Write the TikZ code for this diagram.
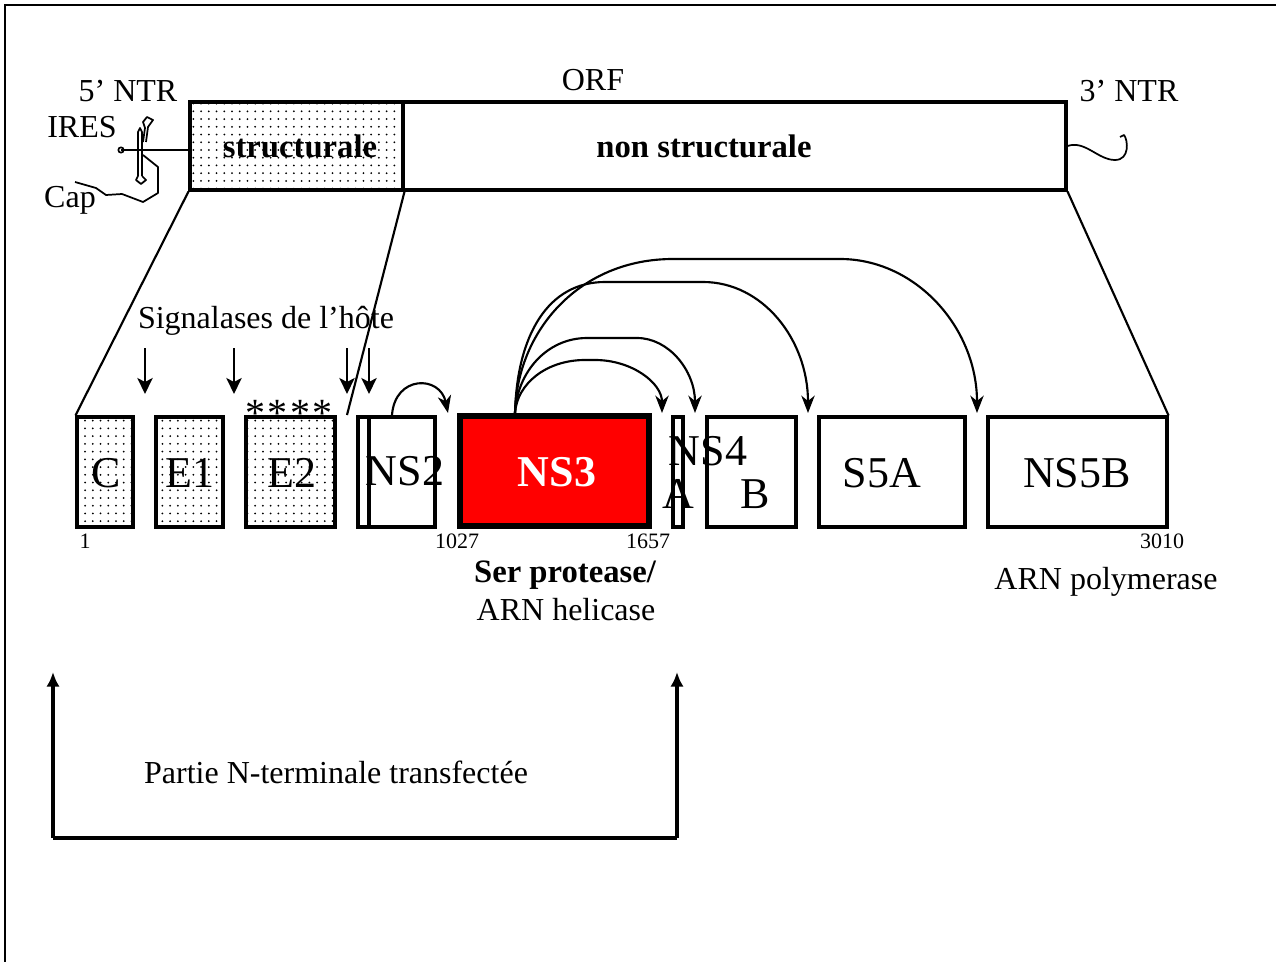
\documentclass[tikz,border=0pt]{standalone}
\usepackage{fontspec}
\setmainfont{Liberation Serif}
\usetikzlibrary{fit,patterns.meta,arrows.meta}
\definecolor{nsred}{RGB}{255,0,0}
\begin{document}
\begin{tikzpicture}[x=0.75pt,y=-0.75pt,
  box/.style={draw, line width=2.3pt, inner sep=0pt},
  dotbox/.style={box, pattern={Dots[distance=5.8pt,radius=0.75pt]}},
  lbl/.style={font=\fontsize{24}{28}\selectfont, inner sep=0pt, anchor=base},
  bl/.style={font=\fontsize{24.5}{28}\selectfont\bfseries, inner sep=0pt, anchor=base},
  big/.style={font=\fontsize{33}{38}\selectfont, inner sep=0pt, anchor=base},
  num/.style={font=\fontsize{16.5}{19}\selectfont, inner sep=0pt, anchor=base},
  star/.style={font=\fontsize{30}{32}\selectfont, inner sep=0pt, anchor=base},
  rna/.style={line width=1.3pt, line join=round},
  link/.style={line width=1.6pt},
  arr/.style={line width=1.6pt, -{Stealth[length=13pt,width=10pt,inset=4pt]}},
  sig/.style={line width=1.6pt, -{Stealth[length=12pt,width=11.5pt,inset=3pt]}},
  brk/.style={line width=2.3pt, -{Latex[length=11pt,width=10pt]}}
]
\useasboundingbox (0,0) rectangle (1276,962);
\draw[line width=1.6pt] (5,962) -- (5,5) -- (1276,5);

% ---- top bar
\node[dotbox, fit={(190,102) (403,190)}] (str) {};
\node[box, fit={(403,102) (1066,190)}] (nstr) {};
\node[bl] (strl) at (300,158) {structurale};
\node[bl] (nstrl) at (704,158) {non structurale};
\node[lbl] (orf) at (593,91) {ORF};
\node[lbl] (ntr5) at (128,102) {5’ NTR};
\node[lbl] (ires) at (82,138) {IRES};
\node[lbl] (cap) at (70,208) {Cap};
\node[lbl] (ntr3) at (1129,102) {3’ NTR};

% IRES structure
\coordinate (irj) at (121,150);
\draw[rna] (irj) -- (str.west |- irj);
\draw[rna] (irj) circle[radius=2pt];
\draw[rna] (138,176) -- (138,132) -- (140,128) -- (142,132) -- (142,176);
\draw[rna] (143,142) -- (145,128) -- (143,122) -- (147,117) -- (153,120) -- (148,127) -- (146,142);
\draw[rna] (138,176) -- (136,180) -- (141,184) -- (146,180) -- (142,176);
\coordinate (capS) at (75,182);
\draw[rna] (capS) -- (96,188) -- (106,195) -- (122,194) -- (143,202) -- (158,193) -- (158,167) -- (143,155);

% 3' tail
\draw[rna] (nstr.east) .. controls (1085,140) and (1098,160) .. (1115,160)
  .. controls (1130,160) and (1128,140) .. (1124,135) -- (1120,137);

% ---- protein boxes
\node[dotbox, fit={(77,417) (133,527)}] (C) {};
\node[dotbox, fit={(156,417) (223,527)}] (E1) {};
\node[dotbox, fit={(246,417) (335,527)}] (E2) {};
\node[box, fit={(358,417) (435,527)}] (NS2) {};
\draw[line width=2.3pt] (369,417) -- (369,527);
\node[draw, line width=4.6pt, inner sep=0pt, fill=nsred, fit={(460,416) (649,526)}] (NS3) {};
\node[box, fit={(673,417) (683,527)}] (NS4A) {};
\node[box, fit={(707,417) (796,527)}] (NS4B) {};
\node[box, fit={(819,417) (965,527)}] (NS5A) {};
\node[box, fit={(988,417) (1167,527)}] (NS5B) {};

\node[big] (lC) at (106,487) {C};
\node[big] (lE1) at (190,487) {E1};
\node[big] (lE2) at (292,487) {E2};
\node[big] (lNS2) at (405,485) {NS2};
\node[big, text=white, font=\fontsize{33}{38}\selectfont\bfseries] (lNS3) at (557,486) {NS3};
\node[big] (lNS4) at (708,465) {NS4};
\node[big] (lA) at (678,508) {A};
\node[big] (lB) at (755,508) {B};
\node[big] (lS5A) at (882,487) {S5A};
\node[big] (lNS5B) at (1077,487) {NS5B};

\node[star] (s1) at (255,426) {*};
\node[star] (s2) at (277,426) {*};
\node[star] (s3) at (300,426) {*};
\node[star] (s4) at (322,426) {*};

\node[num] (n1) at (85,548) {1};
\node[num] (n1027) at (457,548) {1027};
\node[num] (n1657) at (648,548) {1657};
\node[num] (n3010) at (1162,548) {3010};

\node[bl] (ser) at (565,582) {Ser protease/};
\node[lbl] (hel) at (566,620) {ARN helicase};
\node[lbl] (pol) at (1106,589) {ARN polymerase};

% expansion lines
\coordinate (cut) at (347,415);
\draw[link] (str.south west) -- (C.north west);
\draw[link] (str.south east) -- (cut);
\draw[link] (nstr.south east) -- (NS5B.north east);

% signalases
\node[lbl] (sigl) at (266,328) {Signalases de l’hôte};
\coordinate (a1) at (145,348); \coordinate (b1) at (145,394);
\coordinate (a2) at (234,348); \coordinate (b2) at (234,394);
\coordinate (a3) at (347,348); \coordinate (b3) at (347,394);
\coordinate (a4) at (369,348); \coordinate (b4) at (369,394);
\draw[sig] (a1) -- (b1);
\draw[sig] (a2) -- (b2);
\draw[sig] (a3) -- (b3);
\draw[sig] (a4) -- (b4);

% cleavage arrows
\coordinate (n2s) at (392,415);
\coordinate (t0) at (448,413);
\draw[arr] (n2s) .. controls (395,375) and (440,375) .. (t0);
\coordinate (n3s) at (515,413);
\coordinate (t1) at (662,413);
\coordinate (t2) at (695,413);
\coordinate (t3) at (808,413);
\coordinate (t4) at (977,413);
\draw[arr] (n3s) .. controls (517,384) and (546,360) .. (585,360) -- (595,360)
  .. controls (632,360) and (662,383) .. (t1);
\draw[arr] (n3s) .. controls (517,372) and (547,338) .. (587,338) -- (637,338)
  .. controls (669,338) and (695,371) .. (t2);
\draw[arr] (n3s) .. controls (517,335) and (548,282) .. (605,282) -- (703,282)
  .. controls (763,282) and (808,340) .. (t3);
\draw[arr] (n3s) .. controls (517,330) and (580,259) .. (673,259) -- (840,259)
  .. controls (916,259) and (977,328) .. (t4);

% bracket
\coordinate (bl0) at (53,838);
\coordinate (bl1) at (53,672);
\coordinate (br0) at (677,838);
\coordinate (br1) at (677,672);
\draw[brk] (bl0) -- (bl1);
\draw[brk] (br0) -- (br1);
\draw[line width=3.2pt] (bl0) -- (br0);
\node[lbl] (part) at (336,783) {Partie N-terminale transfectée};
\end{tikzpicture}
\end{document}
